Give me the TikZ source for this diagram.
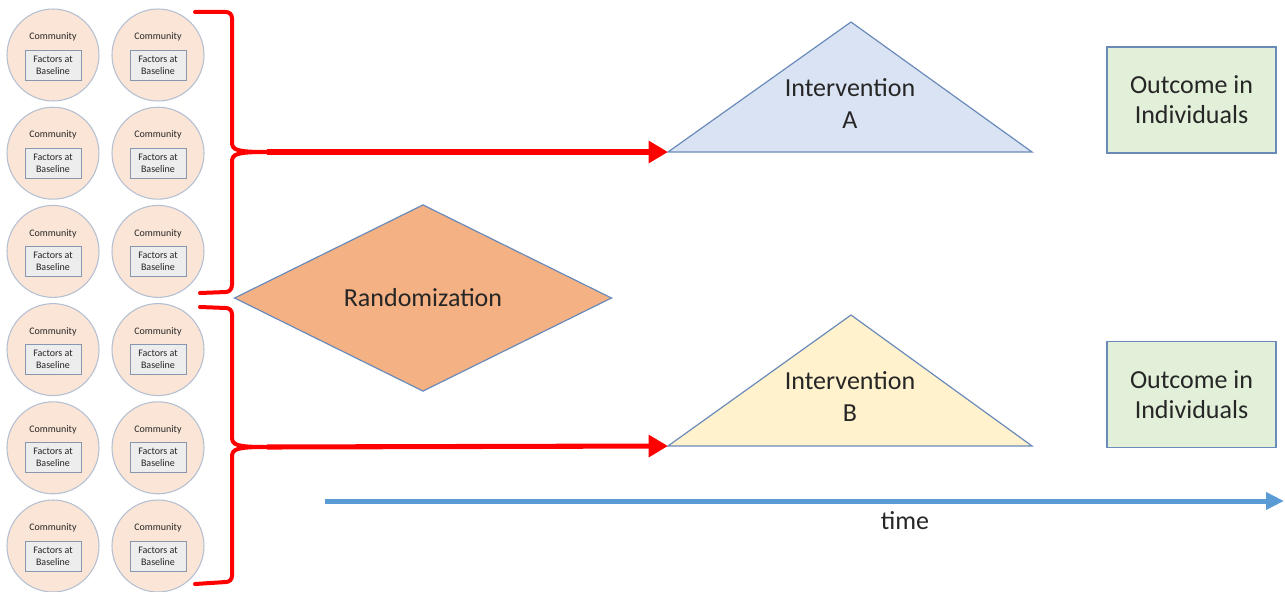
\documentclass[tikz,border=0pt]{standalone}
\usepackage{fontspec}
\setmainfont{Carlito}
\usetikzlibrary{arrows.meta,shapes.geometric}
\definecolor{redline}{HTML}{FF0000}
\definecolor{txt}{HTML}{262626}
\definecolor{circfill}{HTML}{FBE5D6}
\definecolor{circline}{HTML}{B4C0D2}
\definecolor{boxfill}{HTML}{EDEDED}
\definecolor{boxline}{HTML}{8797AE}
\definecolor{shapeedge}{HTML}{6A8BBA}
\definecolor{triA}{HTML}{DAE3F3}
\definecolor{triB}{HTML}{FFF2CC}
\definecolor{randfill}{HTML}{F4B183}
\definecolor{outfill}{HTML}{E2F0D9}
\definecolor{timeblue}{HTML}{5B9BD5}

\begin{document}
\begin{tikzpicture}[x=0.75pt,y=-0.75pt,
  comm/.style={circle,draw=circline,fill=circfill,line width=0.8pt,minimum size=69pt,inner sep=0pt},
  commtext/.style={font=\fontsize{7.5}{9}\selectfont,text=txt,inner sep=0pt},
  factor/.style={draw=boxline,fill=boxfill,line width=0.6pt,minimum width=42pt,minimum height=22.5pt,
    inner sep=0pt,align=center,font=\fontsize{7.5}{9}\selectfont,text=txt},
  bracered/.style={draw=redline,line width=3pt,line join=round,line cap=round},
  redarrow/.style={draw=redline,line width=3.8pt,-{Triangle[length=14.5pt,width=16pt]}},
  shapeline/.style={draw=shapeedge,line width=0.9pt},
  big/.style={font=\fontsize{19.5}{24}\selectfont,text=txt,align=center},
  outbox/.style={shapeline,fill=outfill,minimum width=126.75pt,minimum height=79.5pt,inner sep=0pt,
    font=\fontsize{19.5}{22.5}\selectfont,text=txt,align=center},
  timearrow/.style={draw=timeblue,line width=3.75pt,-{Triangle[length=13.5pt,width=12.5pt]}}]
\useasboundingbox (0,0) rectangle (1285,592);

\foreach \r in {0,...,5}
  \foreach \c in {0,1} {
    \node[comm] (c\r\c) at ({53+105*\c},{55+98.2*\r}) {};
    \node[commtext] (t\r\c) at ({53+105*\c},{37+98.2*\r}) {Community};
    \node[factor] (f\r\c) at ({53+105*\c},{65+98.2*\r}) {Factors at\\Baseline};
  }

\draw[bracered] (195,12) -- (226,12) to[out=0,in=90] (232,18) -- (232,142)
  .. controls (232,150) and (236,152) .. (267,152) coordinate (tipA)
  .. controls (236,152) and (232,154) .. (232,162) -- (232,285)
  to[out=-90,in=0] (226,292) -- (200,293);
\draw[bracered] (200,307) -- (226,308) to[out=0,in=90] (232,314) -- (232,437)
  .. controls (232,445) and (236,447) .. (267,447) coordinate (tipB)
  .. controls (236,447) and (232,449) .. (232,457) -- (232,576)
  to[out=-90,in=0] (226,582) -- (195,584);

\node[diamond,shapeline,fill=randfill,minimum width=283pt,minimum height=140pt,inner sep=0pt,big]
  (rand) at (423,298) {Randomization};

\coordinate (aL) at (668,152);
\coordinate (aR) at (1032,152);
\coordinate (aT) at (851,22);
\draw[shapeline,fill=triA] (aL) -- (aT) -- (aR) -- cycle;
\node[big] (intA) at (850,104) {Intervention\\A};

\coordinate (bL) at (668,446);
\coordinate (bR) at (1032,446);
\coordinate (bT) at (851,315);
\draw[shapeline,fill=triB] (bL) -- (bT) -- (bR) -- cycle;
\node[big] (intB) at (850,397) {Intervention\\B};

\draw[redarrow] (tipA) -- (aL);
\draw[redarrow] (tipB) -- (bL);

\node[outbox] (outA) at (1191.5,100) {Outcome in\\Individuals};
\node[outbox] (outB) at (1191.5,394.5) {Outcome in\\Individuals};

\coordinate (t0) at (325,501);
\coordinate (t1) at (1284,501);
\draw[timearrow] (t0) -- (t1);
\node[big] (time) at (905,521) {time};
\end{tikzpicture}
\end{document}
